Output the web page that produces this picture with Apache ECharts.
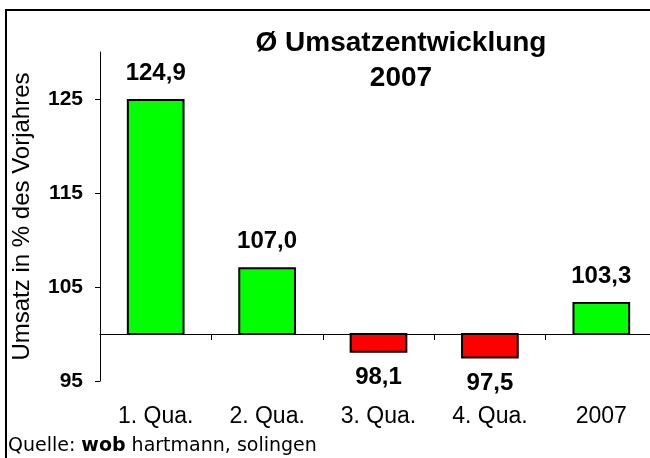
<!DOCTYPE html>
<html>
<head>
<meta charset="utf-8">
<script src="https://cdn.jsdelivr.net/npm/echarts@6/dist/echarts.min.js"></script>
<style>
  html, body { margin: 0; padding: 0; background: #fff; }
  #chart { width: 650px; height: 458px; }
</style>
</head>
<body>
<div id="chart"></div>
<script>
// Daten
var categories = ['1. Qua.', '2. Qua.', '3. Qua.', '4. Qua.', '2007'];
var values = [124.9, 107.0, 98.1, 97.5, 103.3];
var yTicks = [95, 105, 115, 125];
var baseLevel = 100;

var font = '"Liberation Sans", Arial, sans-serif';
var myChart = echarts.init(document.getElementById('chart'));

var option = {
  animation: false,
  backgroundColor: '#fff',
  grid: { left: 100, top: 52, width: 557, bottom: 77, outerBoundsMode: 'none', containLabel: false },
  graphic: [
    // Rahmen
    { type: 'rect', shape: { x: 6, y: 10, width: 700, height: 500 },
      style: { fill: 'none', stroke: '#000', lineWidth: 2 }, z: 100 },
    // Quelle
    { type: 'text', left: 8, top: 437,
      style: { rich: { b: { fontWeight: 'bold', fontSize: 19, fontFamily: '"DejaVu Sans", sans-serif' } },
               text: 'Quelle: {b|wob} hartmann, solingen', fontSize: 19,
               fontFamily: '"DejaVu Sans", sans-serif', fill: '#000' } }
  ],
  title: {
    text: 'Ø Umsatzentwicklung\n2007',
    left: 396, top: 21, textAlign: 'center',
    textStyle: { fontSize: 28, fontWeight: 'bold', fontFamily: font, color: '#000', lineHeight: 35 }
  },
  xAxis: {
    type: 'category',
    data: categories,
    offset: -47,
    axisLine: { lineStyle: { color: '#000', width: 1 } },
    axisTick: { show: true, length: 6, lineStyle: { color: '#000', width: 1 } },
    axisLabel: { margin: 71, fontSize: 23, fontFamily: font, color: '#000' }
  },
  yAxis: {
    type: 'value',
    min: 95, max: 130,
    splitLine: { show: false },
    name: 'Umsatz in % des Vorjahres',
    nameLocation: 'middle',
    nameGap: 66,
    nameTextStyle: { fontSize: 24, fontFamily: font, color: '#000' },
    axisLine: { show: true, lineStyle: { color: '#000', width: 1 } },
    axisTick: { show: true, length: 5, customValues: yTicks, lineStyle: { color: '#000' } },
    axisLabel: { customValues: yTicks, margin: 17, fontSize: 21, fontWeight: 'bold', fontFamily: font, color: '#000' }
  },
  series: [{
    type: 'custom',
    data: values.map(function (v, i) { return [i, v]; }),
    renderItem: function (params, api) {
      var i = api.value(0);
      var v = api.value(1);
      var top = api.coord([i, v]);
      var base = api.coord([i, baseLevel]);
      var w = api.size([1, 0])[0] * 0.5;
      var up = v >= baseLevel;
      return {
        type: 'group',
        children: [
          { type: 'rect',
            shape: { x: top[0] - w / 2, y: Math.min(top[1], base[1]), width: w, height: Math.abs(top[1] - base[1]) },
            style: { fill: up ? '#00ff00' : '#ff0000', stroke: '#000', lineWidth: 2 } },
          { type: 'text',
            style: { text: v.toFixed(1).replace('.', ','), x: top[0], y: up ? top[1] - 27 : top[1] + 26,
                     textAlign: 'center', textVerticalAlign: 'middle',
                     fontSize: 24, fontWeight: 'bold', fontFamily: font, fill: '#000' } }
        ]
      };
    }
  }]
};
myChart.setOption(option);
</script>
</body>
</html>
